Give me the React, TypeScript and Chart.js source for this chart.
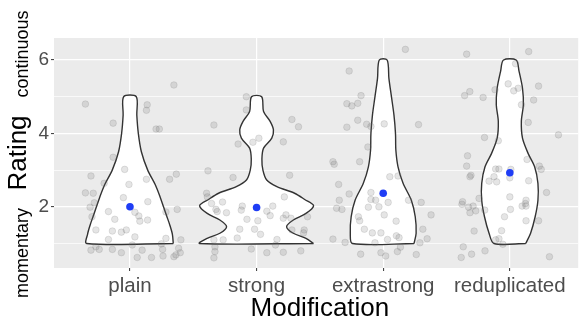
import React, { useEffect, useRef } from 'react';
import { Chart, registerables } from 'chart.js';
Chart.register(...registerables);

const categories = ['plain', 'strong', 'extrastrong', 'reduplicated'];
const yTickValues = [1, 2, 3, 4, 5, 6];
const yTickLabels = ['', '2', '', '4', '', '6'];
const meanRatings = [2.0, 1.98, 2.37, 2.93];

// violin outlines: rating levels and half-widths (in category units)
const plainLevels = [1, 1.25, 1.5, 1.75, 2.0, 2.25, 2.6, 3.0, 3.5, 4.0, 4.5, 5.0];
const plainHalf = [0.342, 0.335, 0.315, 0.29, 0.265, 0.24, 0.2, 0.14, 0.09, 0.066, 0.054, 0.05];
const strongLevels = [1, 1.14, 1.28, 1.46, 1.64, 1.82, 2.03, 2.2, 2.37, 2.55, 2.73, 3.0, 3.3, 3.6, 3.87, 4.1, 4.33, 4.6, 5];
const strongHalf = [0.45, 0.39, 0.29, 0.237, 0.29, 0.39, 0.45, 0.38, 0.3, 0.16, 0.08, 0.05, 0.042, 0.055, 0.12, 0.133, 0.107, 0.055, 0.04];
const extraLevels = [1, 1.28, 1.73, 2.18, 2.64, 3.09, 3.54, 4.0, 4.5, 5.0, 5.5, 6];
const extraHalf = [0.243, 0.26, 0.253, 0.222, 0.157, 0.117, 0.1, 0.097, 0.085, 0.065, 0.045, 0.031];
const redupLevels = [1, 1.28, 1.73, 2.18, 2.64, 3.09, 3.45, 3.87, 4.33, 4.78, 5.23, 5.69, 6];
const redupHalf = [0.125, 0.164, 0.2, 0.222, 0.222, 0.196, 0.145, 0.1, 0.091, 0.107, 0.1, 0.073, 0.05];

// jittered observations: horizontal jitter offset and rating
const plainJitter = [0.347, -0.352, 0.136, 0.13, -0.133, 0.206, 0.232, -0.133, -0.308, -0.204, -0.042, -0.008, 0.13, 0.313, 0.366, -0.352, -0.29, -0.282, -0.315, -0.3, -0.17, -0.052, 0.141, 0.284, 0.373, 0.039, 0.07, 0.078, 0.139, -0.12, -0.269, -0.139, -0.068, -0.029, 0.039, -0.17, 0.284, 0.402, -0.308, -0.269, -0.243, -0.139, -0.068, 0.018, 0.096, 0.057, 0.17, 0.248, 0.258, 0.261, 0.347, 0.363, 0.384, 0.397];
const plainRatings = [5.32, 4.80, 4.78, 4.63, 4.28, 4.12, 4.12, 3.35, 2.84, 2.64, 3.02, 2.61, 2.75, 2.75, 2.89, 2.38, 2.37, 2.11, 1.99, 1.73, 1.87, 2.25, 2.14, 1.86, 1.93, 1.85, 1.75, 1.61, 1.64, 1.66, 1.37, 1.34, 1.31, 1.37, 1.18, 1.11, 1.14, 1.10, 0.82, 0.91, 0.84, 0.84, 0.75, 0.96, 0.82, 0.62, 0.62, 0.99, 0.84, 0.66, 0.64, 0.69, 0.87, 0.75];
const strongJitter = [-0.081, -0.081, -0.337, 0.279, 0.331, 0.018, -0.029, -0.146, 0.211, -0.384, -0.186, 0.261, -0.395, -0.389, -0.269, -0.356, -0.321, -0.311, -0.238, -0.113, -0.121, 0.128, 0.081, 0.107, 0.219, 0.232, 0.211, 0.271, 0.402, -0.076, 0.01, -0.133, -0.016, 0.031, -0.153, 0.279, 0.376, 0.371, -0.337, -0.264, 0.161, 0.149, -0.329, -0.329, -0.337, -0.042, 0.081, 0.211, 0.349];
const strongRatings = [5.0, 4.64, 4.23, 4.38, 4.18, 3.87, 3.76, 3.71, 3.77, 2.98, 2.80, 2.86, 2.37, 2.27, 2.13, 2.09, 1.93, 1.87, 1.84, 2.02, 1.91, 2.02, 1.88, 1.76, 2.27, 1.78, 1.69, 1.69, 1.73, 1.66, 1.62, 1.39, 1.39, 1.25, 1.15, 1.37, 1.37, 1.29, 1.10, 1.10, 1.11, 0.96, 0.91, 0.78, 0.61, 0.85, 0.75, 0.76, 0.80];
const extraJitter = [0.175, -0.269, -0.175, -0.287, -0.248, -0.201, -0.201, -0.287, -0.131, -0.097, 0.008, 0.279, -0.121, -0.397, -0.387, -0.186, -0.352, -0.269, -0.347, -0.368, -0.326, 0.052, 0.117, -0.097, -0.097, -0.06, 0.039, -0.117, -0.034, 0.2, 0.3, 0.378, 0.008, -0.196, -0.186, 0.102, -0.149, -0.086, -0.018, 0.313, 0.104, 0.125, 0.034, -0.065, -0.397, -0.301, 0.29, 0.347, 0.136, 0.112, -0.018, 0.02, -0.178, 0.261];
const extraRatings = [6.29, 5.70, 5.03, 4.81, 4.75, 4.82, 4.36, 4.17, 4.25, 4.19, 4.26, 4.24, 3.63, 3.23, 3.16, 3.23, 2.61, 2.35, 2.18, 1.96, 1.93, 2.82, 2.84, 2.39, 2.20, 2.18, 2.12, 1.99, 2.00, 2.18, 2.12, 1.78, 1.78, 1.73, 1.62, 1.61, 1.39, 1.29, 1.29, 1.39, 1.21, 1.16, 1.11, 1.02, 1.12, 1.03, 1.02, 1.13, 0.90, 0.78, 0.75, 0.66, 0.71, 0.70];
const redupJitter = [-0.341, 0.149, 0.045, -0.013, 0.031, 0.066, 0.227, -0.117, -0.316, -0.357, -0.211, 0.188, 0.092, 0.145, -0.2, -0.091, 0.384, -0.334, -0.341, -0.307, -0.315, -0.112, -0.086, 0.008, -0.125, -0.164, -0.104, 0.136, 0.233, 0.248, 0.149, 0.29, 0, 0, -0.243, -0.373, -0.378, -0.326, -0.29, -0.315, -0.269, -0.198, 0.128, 0.123, 0.097, 0.128, 0.005, -0.042, 0.128, 0.227, -0.282, -0.065, -0.112, -0.086, -0.055, -0.368, -0.196, -0.302, -0.384, 0.313];
const redupRatings = [6.16, 6.23, 5.90, 5.35, 5.16, 5.23, 5.29, 5.19, 5.14, 5.03, 4.98, 4.91, 4.78, 4.30, 3.89, 3.80, 3.96, 3.39, 3.11, 2.86, 2.82, 3.03, 3.03, 3.02, 2.82, 2.70, 2.68, 3.29, 3.11, 3.02, 2.71, 2.39, 2.79, 2.27, 2.23, 2.14, 2.07, 1.99, 2.02, 1.84, 1.89, 1.91, 2.18, 2.09, 2.02, 2.02, 1.93, 1.73, 1.62, 1.62, 1.34, 1.35, 1.10, 1.13, 0.98, 0.91, 0.80, 0.71, 0.62, 0.64];

const FONT = '"Liberation Sans", Arial, Helvetica, sans-serif';

function outline(center: number, levels: number[], half: number[]) {
  const right = levels.map((y, i) => ({ x: center + half[i], y }));
  const left = levels.map((y, i) => ({ x: center - half[i], y })).reverse();
  return [...right, ...left, right[0]];
}

function jitter(center: number, dx: number[], ys: number[]) {
  return ys.map((y, i) => ({ x: center + dx[i], y }));
}

const panelBg = {
  id: 'panelBg',
  beforeDraw(chart: any) {
    const { ctx, chartArea } = chart;
    ctx.save();
    ctx.fillStyle = '#ebebeb';
    ctx.fillRect(chartArea.left, chartArea.top, chartArea.right - chartArea.left, chartArea.bottom - chartArea.top);
    ctx.restore();
  },
};

const titles = {
  id: 'titles',
  afterDraw(chart: any) {
    const { ctx, chartArea, scales } = chart;
    ctx.save();
    ctx.fillStyle = '#000';
    ctx.textAlign = 'center';
    ctx.textBaseline = 'alphabetic';
    ctx.font = `26px ${FONT}`;
    ctx.fillText('Modification', scales.x.getPixelForValue(2.5), 316);
    const cy = (chartArea.top + chartArea.bottom) / 2;
    ctx.translate(26, cy);
    ctx.rotate(-Math.PI / 2);
    ctx.fillText('Rating', 0, 0);
    ctx.font = `18px ${FONT}`;
    ctx.fillText('continuous', cy - 54, 2);
    ctx.fillText('momentary', cy - 253, 2);
    ctx.restore();
  },
};

export default function App() {
  const ref = useRef<HTMLCanvasElement>(null);
  useEffect(() => {
    const centers = [1, 2, 3, 4];
    const violins = [
      outline(1, plainLevels, plainHalf),
      outline(2, strongLevels, strongHalf),
      outline(3, extraLevels, extraHalf),
      outline(4, redupLevels, redupHalf),
    ];
    const jit = [
      jitter(1, plainJitter, plainRatings),
      jitter(2, strongJitter, strongRatings),
      jitter(3, extraJitter, extraRatings),
      jitter(4, redupJitter, redupRatings),
    ];
    const datasets: any[] = [];
    violins.forEach((d, i) => {
      datasets.push({
        type: 'line',
        label: categories[i] + ' violin',
        data: d,
        borderColor: '#333333',
        borderWidth: 1.4,
        backgroundColor: '#ffffff',
        fill: 'shape',
        tension: 0.3,
        pointRadius: 0,
        pointHoverRadius: 0,
        order: 3,
      });
    });
    jit.forEach((d, i) => {
      datasets.push({
        type: 'scatter',
        label: categories[i],
        data: d,
        pointRadius: 3.3,
        pointBackgroundColor: 'rgba(110,110,110,0.18)',
        pointBorderColor: 'rgba(110,110,110,0.22)',
        pointBorderWidth: 0.8,
        order: 2,
      });
    });
    datasets.push({
      type: 'scatter',
      label: 'mean',
      data: meanRatings.map((y, i) => ({ x: centers[i], y })),
      pointRadius: 3.8,
      pointBackgroundColor: '#1f3df5',
      pointBorderColor: '#1f3df5',
      pointBorderWidth: 0,
      order: 1,
    });

    const chart = new Chart(ref.current as HTMLCanvasElement, {
      type: 'line',
      data: { datasets },
      plugins: [panelBg, titles],
      options: {
        animation: false,
        responsive: false,
        events: [],
        layout: { padding: { top: 38, left: 0, right: 0, bottom: 0 } },
        plugins: { legend: { display: false }, tooltip: { enabled: false } },
        scales: {
          x: {
            type: 'linear',
            min: 0.4,
            max: 4.54,
            afterBuildTicks: (s: any) => { s.ticks = centers.map((v) => ({ value: v })); },
            afterFit: (s: any) => { s.height = 53; },
            border: { display: false },
            grid: { color: '#ffffff', lineWidth: 1.2, tickColor: '#333333', tickLength: 3, tickWidth: 1 },
            ticks: {
              autoSkip: false,
              maxRotation: 0,
              padding: 3,
              color: '#4d4d4d',
              font: { family: FONT, size: 20.5 },
              callback: (v: any) => categories[Math.round(v) - 1] ?? '',
            },
          },
          y: {
            type: 'linear',
            min: 0.333,
            max: 6.6,
            afterBuildTicks: (s: any) => { s.ticks = yTickValues.map((v) => ({ value: v })); },
            afterFit: (s: any) => { s.width = 54; },
            border: { display: false },
            grid: {
              color: '#ffffff',
              lineWidth: (c: any) => (c.tick && c.tick.value % 2 === 0 ? 1.2 : 0.7),
              tickColor: (c: any) => (c.tick && c.tick.value % 2 === 0 ? '#333333' : 'rgba(0,0,0,0)'),
              tickLength: 3,
              tickWidth: 1,
            },
            ticks: {
              padding: 2,
              color: '#4d4d4d',
              font: { family: FONT, size: 19 },
              callback: (v: any) => yTickLabels[yTickValues.indexOf(Math.round(v))] ?? '',
            },
          },
        },
      } as any,
    });
    return () => chart.destroy();
  }, []);
  return (
    <div style={{ position: 'absolute', left: 0, top: 0, width: 583, height: 321 }}>
      <canvas ref={ref} width={583} height={321} />
    </div>
  );
}
